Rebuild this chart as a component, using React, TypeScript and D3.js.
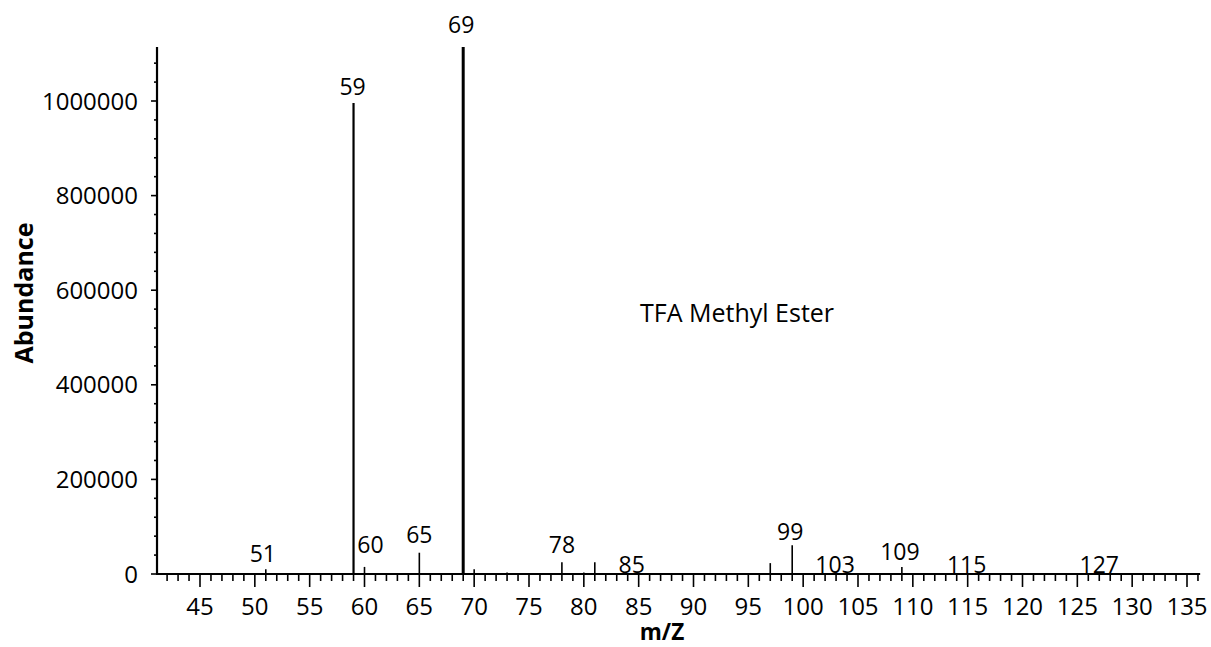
import React from "react";
import * as d3 from "d3";

// m/z of each peak and its abundance
const peakMz = [51, 59, 60, 65, 69, 70, 73, 78, 80, 81, 85, 97, 99, 103, 109, 115, 127];
const peakAbundance = [10000, 996000, 15000, 45000, 1114000, 10000, 3000, 25000, 3000, 25000, 3000, 23000, 61000, 2000, 15000, 2000, 2000];

// labelled peaks
const labelMz = [51, 59, 60, 65, 69, 78, 85, 99, 103, 109, 115, 127];

const xTickValues = [45, 50, 55, 60, 65, 70, 75, 80, 85, 90, 95, 100, 105, 110, 115, 120, 125, 130, 135];
const yTickValues = [0, 200000, 400000, 600000, 800000, 1000000];

const title = "TFA Methyl Ester";
const xTitle = "m/Z";
const yTitle = "Abundance";

// label placement tweaks (style only)
const labelStyle: Record<number, { gap: number; dx: number }> = {
  51: { gap: 7, dx: -3 },
  59: { gap: 8, dx: -1 },
  60: { gap: 14, dx: 6 },
  65: { gap: 10, dx: 0 },
  69: { gap: 14, dx: -2 },
  78: { gap: 9, dx: 0 },
  85: { gap: 0, dx: -7 },
  99: { gap: 5, dx: -2 },
  103: { gap: 0, dx: -1 },
  109: { gap: 7, dx: -2 },
  115: { gap: 0, dx: -1 },
  127: { gap: 0, dx: 0 },
};

export default function App() {
  const W = 1211;
  const H = 647;
  const x = d3.scaleLinear().domain([45, 135]).range([200, 1187]);
  const y = d3.scaleLinear().domain([0, 1000000]).range([574, 101]);
  const xMin = 41.08;
  const xMax = 136.2;
  const yMax = 1114000;
  const font = "'Open Sans', 'Noto Sans', sans-serif";

  const minorX = d3.range(42, 137);
  const minorY = d3.range(0, yMax, 40000);
  const valueOf = (mz: number) => peakAbundance[peakMz.indexOf(mz)];

  return (
    <svg
      width={W}
      height={H}
      style={{ position: "absolute", left: 0, top: 0, background: "#fff" }}
      fontFamily={font}
    >
      <rect x={0} y={0} width={W} height={H} fill="#fff" />
      {/* peaks */}
      {peakMz.map((mz, i) => (
        <line
          key={"p" + mz}
          x1={x(mz)}
          x2={x(mz)}
          y1={y(0)}
          y2={y(Math.min(peakAbundance[i], yMax))}
          stroke="#000"
          strokeWidth={mz === 69 ? 3 : mz === 59 ? 2.2 : 1.6}
        />
      ))}
      {/* axes */}
      <line x1={x(xMin)} x2={x(xMin)} y1={y(yMax)} y2={y(0)} stroke="#000" strokeWidth={2.2} />
      <line x1={x(xMin) - 1} x2={x(xMax)} y1={y(0)} y2={y(0)} stroke="#000" strokeWidth={2.2} />
      {/* x ticks */}
      {minorX.map((v) => (
        <line
          key={"xt" + v}
          x1={x(v)}
          x2={x(v)}
          y1={y(0)}
          y2={y(0) + (v % 5 === 0 ? 13 : 7)}
          stroke="#000"
          strokeWidth={1.6}
        />
      ))}
      {xTickValues.map((v) => (
        <text key={"xl" + v} x={x(v)} y={615} fontSize={24} textAnchor="middle" fill="#000">
          {v}
        </text>
      ))}
      {/* y ticks */}
      {minorY.map((v) => (
        <line
          key={"yt" + v}
          x1={x(xMin) - (v % 200000 === 0 ? 6 : 3)}
          x2={x(xMin)}
          y1={y(v)}
          y2={y(v)}
          stroke="#000"
          strokeWidth={1.6}
        />
      ))}
      {yTickValues.map((v) => (
        <text key={"yl" + v} x={138} y={y(v) + 8.5} fontSize={24} textAnchor="end" fill="#000">
          {v}
        </text>
      ))}
      {/* peak labels */}
      {labelMz.map((mz) => {
        const s = labelStyle[mz];
        return (
          <text
            key={"l" + mz}
            x={x(mz) + s.dx}
            y={y(Math.min(valueOf(mz), yMax)) - s.gap}
            fontSize={23}
            textAnchor="middle"
            fill="#000"
          >
            {mz}
          </text>
        );
      })}
      {/* titles */}
      <text x={640} y={322} fontSize={25} fill="#000">
        {title}
      </text>
      <text x={662} y={640} fontSize={22.5} fontWeight="bold" textAnchor="middle" fill="#000">
        {xTitle}
      </text>
      <text
        transform="translate(33,293) rotate(-90)"
        fontSize={25}
        fontWeight="bold"
        textAnchor="middle"
        fill="#000"
      >
        {yTitle}
      </text>
    </svg>
  );
}
